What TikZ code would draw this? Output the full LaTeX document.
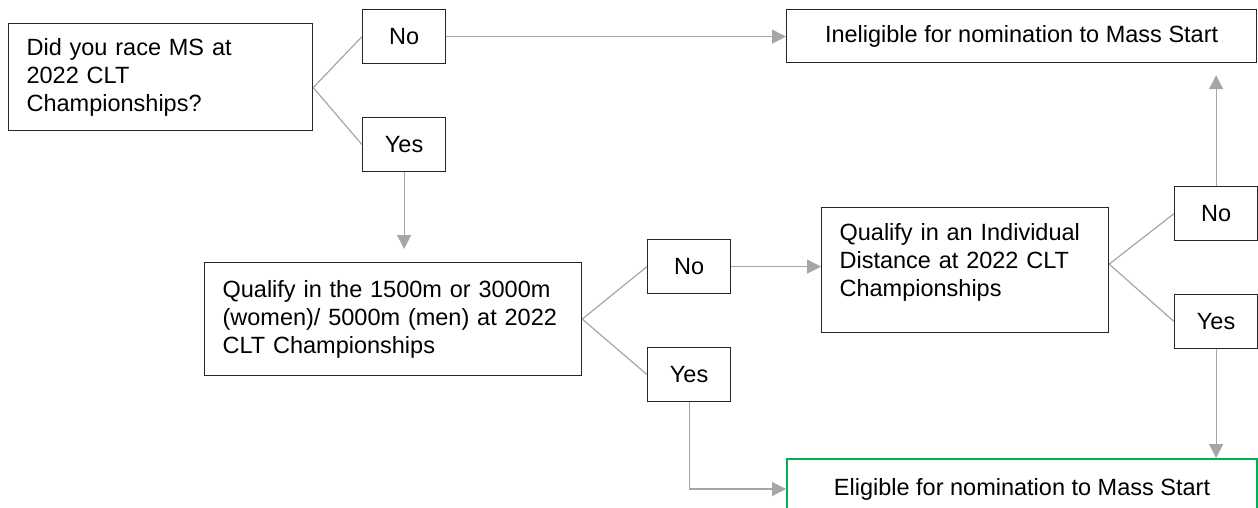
\documentclass[tikz,border=0pt]{standalone}
\usepackage{fontspec}
\setmainfont{Liberation Sans}
\usetikzlibrary{arrows.meta}
\definecolor{linegray}{HTML}{A6A6A6}
\definecolor{okgreen}{HTML}{00B050}

\begin{document}
\begin{tikzpicture}[x=1pt, y=-1pt, font=\fontsize{23.5}{28}\selectfont,
        main/.style = {draw=black!85, line width=1.2pt, inner xsep=18pt, inner ysep=0pt, align=left, anchor=north west},
        answer/.style = {draw=black!85, line width=1.2pt, minimum width=83pt, minimum height=54pt, anchor=north west},
        result/.style = {draw=black!85, line width=1.2pt, minimum width=470pt, minimum height=53pt, anchor=north west},
        link/.style = {draw=linegray, line width=1.2pt},
        arrow/.style = {link, -{Triangle[length=14pt,width=14pt]}}]
        \useasboundingbox (0,0) rectangle (1258,508);
        \node[main, minimum height=107pt, text width=268pt] (1) at (8,23) {Did you race MS at\\2022 CLT\\Championships?};
        \node[answer] (2) at (362,9) {No};
        \node[answer] (3) at (362,117) {Yes};
        \node[main, minimum height=113pt, text width=341pt] (4) at (204,262) {Qualify in the 1500m or 3000m\\(women)/ 5000m (men) at 2022\\CLT Championships};
        \node[answer] (5) at (647,239) {No};
        \node[answer] (6) at (647,347) {Yes};
        \node[main, minimum height=125pt, text width=251pt] (7) at (821,207) {Qualify in an Individual\\Distance at 2022 CLT\\Championships\\[-8pt]\mbox{}};
        \node[answer] (8) at (1174,186) {No};
        \node[answer] (9) at (1174,294) {Yes};
        \node[result] (10) at (786,9) {Ineligible for nomination to Mass Start};
        \node[result, draw=okgreen, line width=2pt, minimum height=60pt] (11) at (786,458) {Eligible for nomination to Mass Start};
        \draw[link] ([yshift=-10.5pt]1.east) -- (2.west);
        \draw[link] ([yshift=-10.5pt]1.east) -- (3.west);
        \draw[arrow] (2.east) -- (2.east -| 10.west);
        \draw[arrow, shorten >=13pt] (3.south) -- (3.south |- 4.north);
        \draw[link] (4.east) -- (5.west);
        \draw[link] (4.east) -- (6.west);
        \draw[arrow] (5.east) -- (5.east -| 7.west);
        \draw[link] ([yshift=6pt]7.east) -- (8.west);
        \draw[link] ([yshift=6pt]7.east) -- (9.west);
        \draw[arrow, shorten >=12pt] (8.north) -- (8.north |- 10.south);
        \draw[arrow] (9.south) -- (9.south |- 11.north);
        \draw[arrow] (6.south) |- (11.west);
    \end{tikzpicture}
\end{document}
